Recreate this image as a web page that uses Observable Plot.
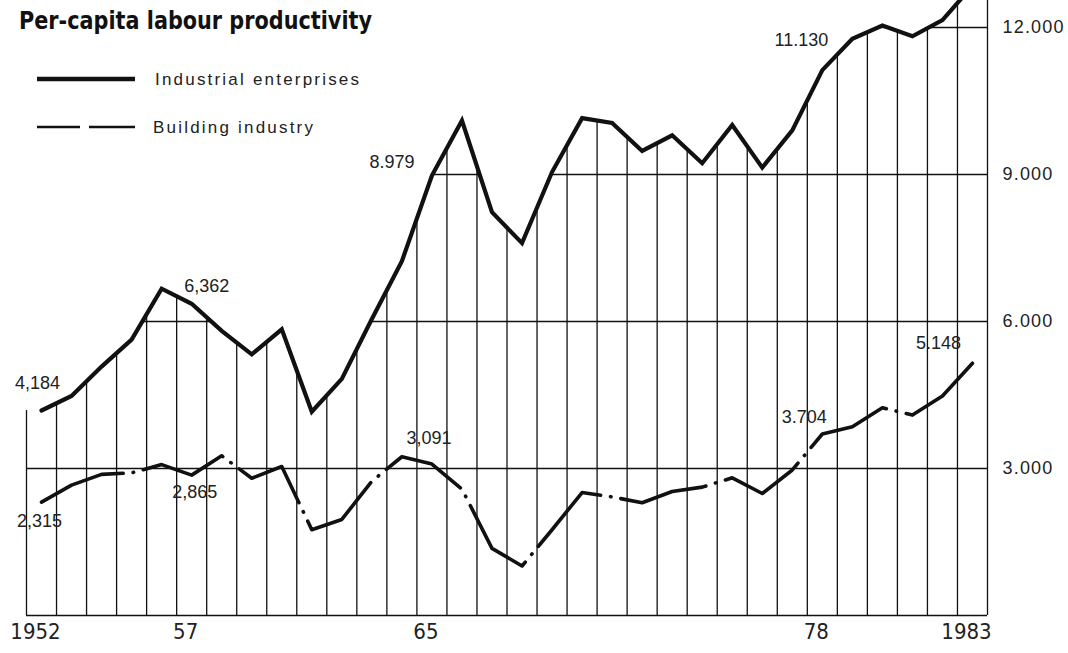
<!DOCTYPE html>
<html><head><meta charset="utf-8">
<script src="https://cdn.jsdelivr.net/npm/d3@7"></script>
<script src="https://cdn.jsdelivr.net/npm/@observablehq/plot@0.6"></script>
<style>
body{margin:0;background:#fff;}
#wrap{position:relative;width:1068px;height:653px;overflow:hidden;background:#fff;}
#overlay{position:absolute;left:0;top:0;}
#chart svg text{fill:#222;}
g[aria-label="y-axis tick label"] text{letter-spacing:1.2px;}
g[aria-label="value label"] text{letter-spacing:1.8px;}
</style></head><body>
<div id="wrap"><div id="chart"></div>
<svg id="overlay" width="420" height="150">
  <text x="19" y="29" font-family="'DejaVu Sans Condensed','Liberation Sans Narrow',sans-serif" font-weight="bold" font-size="25" textLength="353" lengthAdjust="spacingAndGlyphs" fill="#111">Per-capita labour productivity</text>
  <line x1="37" x2="135" y1="79" y2="79" stroke="#111" stroke-width="4.5"/>
  <text x="155" y="79" dominant-baseline="central" font-family="'Liberation Sans',sans-serif" font-size="17" letter-spacing="2.2" fill="#222">Industrial enterprises</text>
  <line x1="37" x2="80" y1="127" y2="127" stroke="#111" stroke-width="2.6"/>
  <line x1="89" x2="135" y1="127" y2="127" stroke="#111" stroke-width="2.6"/>
  <text x="153" y="127" dominant-baseline="central" font-family="'Liberation Sans',sans-serif" font-size="17" letter-spacing="2.2" fill="#222">Building industry</text>
</svg>
</div>
<script>
const years = [1952,1953,1954,1955,1956,1957,1958,1959,1960,1961,1962,1963,1964,1965,1966,1967,1968,1969,1970,1971,1972,1973,1974,1975,1976,1977,1978,1979,1980,1981,1982,1983];
const industrial = [4184,4480,5080,5630,6670,6362,5810,5330,5840,4160,4830,6050,7230,8979,10100,8230,7600,9050,10150,10050,9480,9800,9230,10010,9140,9900,11130,11770,12040,11820,12150,12850];
const building = [2315,2660,2880,2910,3080,2865,3260,2800,3040,1750,1960,2740,3240,3091,2580,1370,1010,1750,2510,2420,2300,2530,2620,2810,2490,2970,3704,3850,4240,4090,4480,5148];
const gridValues = [0,3000,6000,9000,12000];
const yTicks = [3000,6000,9000,12000];
const xTicks = [1952,1957,1965,1978,1983];
const xTickLabels = ["1952","57","65","78","1983"];
const indLabelYears = [1952,1957,1965,1978];
const indLabelTexts = ["4,184","6,362","8.979","11.130"];
const bldLabelYears = [1952,1957,1965,1978,1983];
const bldLabelTexts = ["2,315","2,865","3,091","3.704","5.148"];

const yMax = 12551;
const n = years.length;
const xs = [years[0]-0.5, ...years, years[n-1]+0.5];
const vs = [industrial[0], ...industrial, industrial[n-1]];
function interp(b){
  for (let j=0;j<xs.length-1;j++){
    if (b>=xs[j] && b<=xs[j+1]){
      const t=(b-xs[j])/(xs[j+1]-xs[j]);
      return vs[j]*(1-t)+vs[j+1]*t;
    }
  }
  return vs[vs.length-1];
}
const boundaries = years.map(y=>y-0.5).concat([years[n-1]+0.5]);
const vrules = boundaries.map((b,i)=>({x:b, top: i===boundaries.length-1 ? yMax : interp(b)}));
const segs=[];
for (const v of gridValues){
  let start = vs[0]>v ? xs[0] : null;
  for (let j=0;j<xs.length-1;j++){
    const a=vs[j], b=vs[j+1];
    if ((a>v)!==(b>v)){
      const xc = xs[j]+(v-a)/(b-a)*(xs[j+1]-xs[j]);
      if (b>v) start=xc; else {segs.push({v,x1:start,x2:xc}); start=null;}
    }
  }
  if (start!==null) segs.push({v,x1:start,x2:xs[xs.length-1]});
}
const indData = years.map((y,i)=>({year:y, value:industrial[i]}));
const bldData = years.map((y,i)=>({year:y, value:building[i]}));
const fmtY = d => d3.format(",")(d).replace(/,/g,".");

const indOff = [[-4,-27],[15,-18],[-40,-13],[-21,-30]];
const bldOff = [[-2,19],[3,17],[-3,-26],[-18,-17],[-34,-20]];
const labelMarks = [];
indLabelYears.forEach((y,i)=>{
  labelMarks.push(Plot.text([{x:y, v:industrial[years.indexOf(y)], t:indLabelTexts[i]}],
    {x:"x", y:"v", text:"t", dx:indOff[i][0], dy:indOff[i][1], fontSize:18, fontFamily:"Liberation Sans, sans-serif", ariaLabel:"value label"}));
});
bldLabelYears.forEach((y,i)=>{
  labelMarks.push(Plot.text([{x:y, v:building[years.indexOf(y)], t:bldLabelTexts[i]}],
    {x:"x", y:"v", text:"t", dx:bldOff[i][0], dy:bldOff[i][1], fontSize:18, fontFamily:"Liberation Sans, sans-serif", ariaLabel:"value label"}));
});

const chart = Plot.plot({
  width:1068, height:653,
  marginLeft:26, marginRight:81, marginTop:0, marginBottom:38,
  x:{domain:[years[0]-0.5, years[n-1]+0.5]},
  y:{domain:[0,yMax]},
  style:{background:"white", color:"#111"},
  marks:[
    Plot.ruleX(vrules, {x:"x", y1:0, y2:"top", stroke:"#111", strokeWidth:1.3}),
    Plot.ruleY(segs, {y:"v", x1:"x1", x2:"x2", stroke:"#111", strokeWidth:1.3}),
    Plot.lineY(indData, {x:"year", y:"value", stroke:"#111", strokeWidth:4.2, strokeLinejoin:"miter", strokeMiterlimit:3}),
    Plot.lineY(bldData, {x:"year", y:"value", stroke:"#111", strokeWidth:3.6, strokeLinejoin:"round", strokeLinecap:"round", strokeDasharray:"88,10,0.5,10"}),
    ...labelMarks,
    Plot.axisY(yTicks, {anchor:"right", tickSize:0, tickPadding:15, tickFormat:fmtY, fontSize:18, fontFamily:"Liberation Sans, sans-serif"}),
    Plot.axisX(xTicks, {anchor:"bottom", tickSize:0, tickPadding:8, dx:-6, tickFormat:d=>xTickLabels[xTicks.indexOf(d)], fontSize:22, fontFamily:"DejaVu Sans Condensed, sans-serif"})
  ]
});
document.getElementById("chart").appendChild(chart);
</script>
</body></html>
